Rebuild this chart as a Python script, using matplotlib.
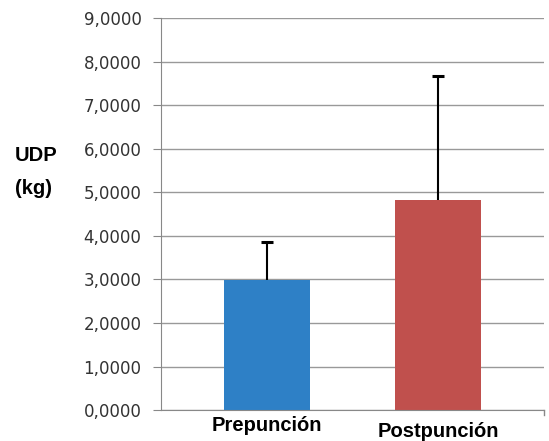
import numpy as np
import matplotlib.pyplot as plt

# datos
categorias = ["Prepunción", "Postpunción"]
medias = [2.98, 4.83]
desv = [0.88, 2.85]
colores = ["#2E80C6", "#C0504D"]
yticks = np.arange(0, 10, 1)

fig = plt.figure(figsize=(5.49, 4.41), dpi=100)
ax = fig.add_axes([0.293, 0.070, 0.698, 0.889])

x = np.arange(len(categorias))
tope = np.array(medias) + np.array(desv)
ax.bar(x, medias, width=0.5, color=colores, zorder=2)
# solo la rama superior de la barra de error
ax.vlines(x, medias, tope, color='black', lw=1.5, zorder=3)
ax.hlines(tope, x - 0.035, x + 0.035, color='black', lw=2.2, zorder=3)

ax.set_ylim(0, 9)
ax.set_xlim(-0.62, 1.62)
ax.set_yticks(yticks)
ax.set_yticklabels([f"{v:.4f}".replace('.', ',') for v in yticks],
                   fontsize=12, color='#333333')
ax.yaxis.grid(True, color='#999999', linewidth=1, zorder=0)
ax.tick_params(axis='y', length=6, color='#888888', pad=8)

ax.set_xticks([])
for xi, lab, dy in zip(x, categorias, [-0.35, -0.5]):
    ax.text(xi, dy, lab, ha='center', va='center', fontsize=14.5,
            fontweight='bold', family='Liberation Sans')

for s in ['top', 'right']:
    ax.spines[s].set_visible(False)
ax.spines['left'].set_color('#888888')
ax.spines['bottom'].set_color('#888888')
ax.plot([1.62, 1.62], [0, -0.12], color='#888888', lw=1, clip_on=False)

fig.text(0.027, 0.61, "UDP\n(kg)", fontsize=14.5, fontweight='bold',
         family='Liberation Sans', va='center', ha='left', linespacing=1.9)

fig.savefig("out.png", dpi=100)
